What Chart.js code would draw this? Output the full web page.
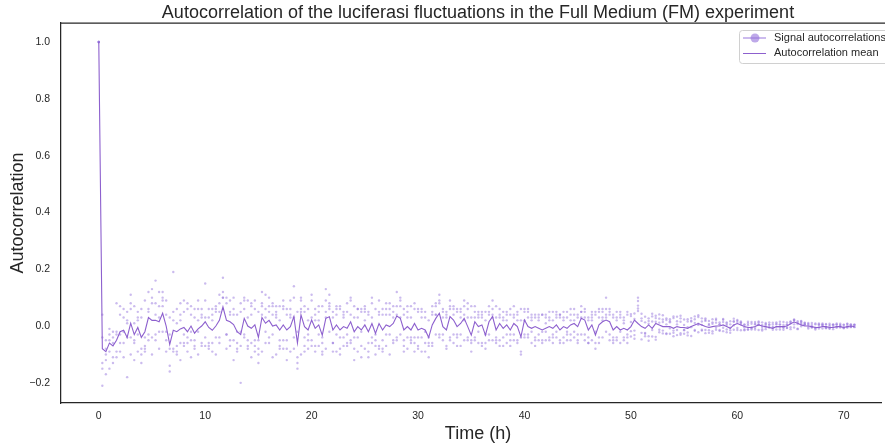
<!DOCTYPE html>
<html>
<head>
<meta charset="utf-8">
<script src="https://cdn.jsdelivr.net/npm/chart.js@4.4.1/dist/chart.umd.min.js"></script>
<style>
  html, body { margin: 0; padding: 0; background: #fff; overflow: hidden; }
  #chart { display: block; }
</style>
</head>
<body>
<canvas id="chart" width="885" height="446"></canvas>
<script>
// sampling interval of the lags (hours)
const STEP_H = 1 / 3;

const meanAutocorr = [
  1.0, -0.08, -0.09, -0.06, -0.07, -0.05, -0.02, -0.015, -0.04, 0.01,
  -0.03, -0.005, -0.04, -0.02, 0.03, 0.02, 0.02, 0.015, 0.045, 0.0,
  -0.065, -0.015, -0.02, -0.01, -0.005, -0.02, 0.0, -0.025, -0.01, 0.0,
  0.015, -0.005, -0.015, 0.0, 0.02, 0.067, 0.02, 0.015, 0.005, -0.02,
  -0.03, 0.027, 0.0, -0.008, 0.004, -0.04, 0.03, 0.01, 0.02, 0.0,
  0.004, -0.014, 0.004, -0.014, -0.002, 0.033, -0.06, 0.039, -0.002, -0.014,
  0.021, -0.008, 0.004, -0.032, 0.027, 0.033, -0.014, 0.004, -0.014, -0.002,
  -0.008, 0.015, -0.02, -0.002, -0.014, 0.004, -0.02, 0.009, -0.026, 0.009,
  -0.014, 0.004, -0.002, 0.009, 0.035, 0.027, -0.014, -0.002, -0.014, 0.009,
  -0.014, -0.008, -0.014, -0.04, 0.004, 0.027, 0.045, -0.002, -0.014, 0.033,
  0.021, -0.002, 0.009, 0.027, -0.002, -0.032, 0.015, -0.002, 0.004, -0.032,
  0.015, 0.033, -0.014, 0.009, -0.008, 0.004, -0.014, 0.009, -0.002, -0.038,
  0.021, -0.002, -0.008, -0.002, -0.008, -0.014, -0.008, -0.002, -0.008, 0.004,
  -0.014, -0.002, -0.008, 0.004, 0.009, -0.002, 0.027, 0.021, -0.014, 0.004,
  -0.032, 0.004, 0.015, 0.021, 0.015, -0.014, -0.002, -0.014, -0.008, -0.014,
  -0.002, 0.021, 0.009, -0.002, -0.008, 0.004, -0.008, 0.009, 0.004, -0.002,
  -0.002, -0.002, -0.008, -0.002, -0.005, -0.005, -0.008, -0.002, 0.004, 0.009,
  0.004, -0.002, -0.005, -0.002, 0.0, 0.0, 0.004, -0.002, -0.008, 0.004,
  0.009, 0.004, -0.002, -0.005, -0.005, -0.002, 0.004, 0.0, -0.002, -0.005,
  -0.008, -0.002, -0.002, -0.002, 0.0, 0.008, 0.014, 0.01, 0.004, 0.0,
  0.0, -0.002, -0.005, -0.005, -0.002, -0.002, -0.005, -0.005, -0.002, -0.002,
  -0.005, -0.002, 0.0, -0.002
];

const signal1 = [
  1, -.21, -.12, -.15, -.02, .08, -.09, .06, -.18, .11,
  -.06, .05, -.13, .09, .12, -.04, .16, -.08, .10, -.05,
  -.14, .19, -.10, .04, -.07, .08, -.11, .03, .09, -.06,
  .15, -.08, .06, -.10, .11, .17, -.03, .09, -.12, .04,
  -.20, .10, -.05, .08, -.09, -.13, .12, -.02, .07, -.11,
  .05, -.07, .09, -.12, .03, .14, -.15, .10, -.04, .06,
  .11, -.09, .02, -.10, .13, .07, -.06, .04, -.08, .05,
  -.03, .10, -.12, .06, -.07, .02, -.11, .08, -.05, .09,
  -.08, .04, -.10, .03, .12, .07, -.09, .05, -.06, .08,
  -.07, .05, -.06, -.11, .04, .08, .11, -.03, -.08, .09,
  .06, -.04, .03, .07, -.05, -.09, .05, -.02, .04, -.08,
  .07, .09, -.06, .03, -.04, .05, -.07, .04, .02, -.10,
  .06, -.03, .02, -.05, .03, -.06, .01, -.04, .02, .05,
  -.05, .03, -.02, .04, .06, -.03, .07, .05, -.06, .02,
  -.08, .03, .05, .10, .04, -.05, .02, -.06, .01, -.04,
  .035, -.045, .062, .018, -.027, .008, .043, -.038, .026, .014,
  -.028, .017, -.036, .006, .027, -.015, -.033, .019, .024, .032,
  .016, -.025, .007, -.018, .026, .013, -.006, .009, -.024, .017,
  .018, .006, -.015, .009, -.008, .014, .005, -.016, .007, -.004,
  -.013, .008, .015, -.006, .004, -.011, .019, .012, .016, .006,
  .007, -.005, -.012, .009, .002, -.006, .008, -.011, .005, .001,
  -.006, .007, -.004, .003
];

const signal2 = [
  1, -.15, -.08, -.03, -.11, -.09, .04, -.06, .05, -.10,
  .07, -.09, .03, -.07, -.05, .13, -.03, .07, -.02, .09,
  -.03, -.09, .06, -.12, .05, -.06, .07, -.08, -.02, .06,
  -.07, .06, -.09, .05, -.04, .10, .08, -.05, .06, -.08,
  .05, -.03, .09, -.11, .06, -.08, .04, .11, -.06, .08,
  -.10, .07, -.05, .06, -.09, .03, -.11, .09, .05, -.08,
  .03, .06, -.07, -.04, .09, -.02, .05, -.09, .06, -.07,
  .08, -.05, .03, -.09, .06, -.08, .04, -.04, -.10, .05,
  .06, -.07, .08, -.05, .04, -.03, .06, -.08, .03, -.06,
  .05, -.09, .03, .02, -.06, .07, -.04, .05, .03, -.05,
  -.03, .06, -.07, .04, .08, -.06, .03, .05, -.07, .02,
  -.05, .04, .03, -.07, .05, -.03, .06, -.05, .04, .02,
  -.04, .05, -.06, .03, -.03, .04, -.05, .03, -.06, -.02,
  .04, -.06, .03, -.05, .02, .04, -.03, .06, .03, -.05,
  .04, -.06, .03, -.02, .06, .03, -.05, .04, -.04, .05,
  -.037, .025, .088, -.024, .033, -.036, .016, .028, -.022, .038,
  .021, -.027, .034, -.032, .015, .004, -.023, .028, -.014, .008,
  -.016, .022, -.024, .013, -.005, -.017, .025, -.012, .006, -.013,
  -.007, .016, .004, -.013, .008, -.006, -.014, .013, -.004, .006,
  .005, -.012, -.004, .014, -.006, .009, -.005, .017, .008, .012,
  -.004, .011, .006, -.009, .004, .007, -.010, .005, -.006, .004,
  .005, -.004, .006, -.003
];

const signal3 = [
  1, -.04, -.17, -.05, -.13, -.02, -.06, -.11, .02, -.04,
  -.12, .03, -.08, -.04, .06, -.10, .08, .03, .12, -.09,
  -.16, .02, -.07, .08, -.03, -.09, .04, -.05, .06, .03,
  -.04, .03, -.06, .07, -.06, .12, -.08, .05, .10, -.06,
  -.02, .09, -.07, .04, -.05, -.10, .08, -.06, .10, -.03,
  .07, -.05, -.08, .04, .09, -.04, -.13, .06, -.07, -.05,
  -.05, .04, .07, -.09, .05, .11, -.06, -.03, .07, -.04,
  -.07, .09, -.04, .06, -.11, .05, -.06, .10, -.03, -.07,
  -.05, .08, .04, .07, -.04, .09, -.07, .03, -.05, .06,
  -.04, .03, -.09, -.06, .07, -.03, .09, -.05, .04, .06,
  .04, -.07, .05, .09, -.04, .03, -.05, .03, -.06, -.03,
  .05, .03, -.04, .06, -.07, .02, -.03, .07, -.05, -.09,
  .05, -.04, .03, -.07, .04, -.05, .03, .02, -.04, .03,
  -.06, .02, .05, -.03, .04, -.05, .05, .03, -.04, .05,
  -.06, .06, .02, .04, -.03, -.04, .05, -.02, .03, -.06,
  .014, -.032, .100, .043, -.036, .027, -.014, -.048, .012, -.026,
  .006, .024, -.016, .033, -.025, -.013, .016, -.035, .011, .004,
  .027, -.014, .018, -.026, .012, .006, .014, -.022, -.015, .003,
  .012, -.015, .006, .003, -.012, .008, .013, .004, -.011, -.005,
  -.005, .006, -.012, .004, .013, -.004, .006, -.011, -.001, .011,
  .004, -.002, -.006, .006, -.009, .005, -.001, -.004, .009, -.005,
  -.008, .001, .005, -.004
];

const signal4 = [
  1, -.13, -.05, -.09, -.06, -.11, -.03, .03, -.04, .06,
  .01, -.03, -.10, -.08, .05, .08, -.05, .12, .07, -.02,
  .03, -.08, .01, -.06, .09, -.04, -.05, .06, -.10, .04,
  .09, -.07, .02, .06, .08, .06, .10, -.07, .04, -.09,
  -.07, .06, .03, -.06, .09, -.05, .07, .03, .05, .07,
  .03, -.08, .06, -.08, .04, .10, -.02, .05, -.09, -.03,
  .09, -.07, -.03, -.06, .03, .08, -.09, .07, -.10, .03,
  -.06, .04, -.08, .03, .05, .07, -.09, .03, -.07, .04,
  -.09, .06, -.03, .05, .07, .03, -.05, -.04, .07, -.04,
  -.08, .06, -.02, -.07, .05, .04, .08, .06, -.07, .07,
  .07, -.03, .06, .02, .06, -.05, .07, -.06, .05, -.06,
  .04, .06, -.05, .04, .03, -.06, .04, -.03, -.06, -.04,
  .02, .06, -.02, .04, -.05, -.02, .04, -.05, .05, -.04,
  .03, -.04, -.03, .06, -.02, .03, .05, -.03, .02, .04,
  -.02, .05, -.04, .06, .05, -.06, -.04, .03, -.05, -.03,
  -.018, .044, .072, .027, .013, -.052, .034, .015, .041, -.016,
  -.026, -.008, .028, -.014, -.031, .023, -.004, .016, .034, .038,
  .004, .018, -.015, .024, -.013, .006, .022, .004, .017, .026,
  .021, .013, -.004, -.011, .014, -.012, .006, -.003, .011, .004,
  .012, -.003, .005, -.013, .006, .014, .021, .007, .018, .005,
  -.009, .004, .009, -.003, .006, -.008, .004, .006, -.003, .008,
  .004, -.005, .001, .005
];

const signal5 = [
  1, .04, -.10, -.01, -.04, -.03, .07, -.02, .01, .08,
  -.05, .02, .06, -.09, -.03, .10, .04, -.02, .09, .04,
  -.08, .05, -.09, .02, -.06, .06, -.02, -.07, .02, -.07,
  .03, -.06, .04, -.04, .05, .10, -.03, .04, -.05, -.02,
  .08, -.04, -.08, .07, -.07, .05, -.09, .06, -.04, .04,
  .04, .02, .07, -.05, .06, -.08, .05, -.10, .07, .02,
  -.07, .02, .05, .07, -.08, .06, .03, .06, -.04, .04,
  .05, -.06, .07, -.04, -.02, .06, .05, -.06, .06, -.08,
  .04, -.03, .06, -.06, -.05, .10, .04, .07, -.04, -.09,
  .06, -.04, .05, -.04, -.07, .04, -.03, .03, .05, -.04,
  -.06, .05, -.03, -.05, .03, .07, -.04, .04, .03, .05,
  -.03, -.05, .07, -.05, .02, .04, -.05, .03, .05, .06,
  -.03, .03, .04, -.04, .02, .04, -.02, .05, -.03, .04,
  .04, .05, -.05, .02, -.04, -.06, .03, -.05, -.06, .03,
  .05, -.04, .06, .03, -.05, .04, .03, .05, .02, .04,
  .042, -.016, .053, -.047, -.024, .018, -.037, .036, -.013, .023,
  .027, .013, -.024, .017, .036, -.027, .024, -.004, -.017, -.022,
  -.013, .027, .003, .008, .021, -.014, -.018, .013, -.006, .015,
  -.014, .011, -.012, .015, -.005, .006, .016, -.011, .004, .013,
  -.004, .013, .006, -.004, -.007, .016, .023, -.009, .012, .005,
  .011, -.004, -.008, .004, .009, -.004, -.008, .003, .005, -.002,
  -.004, .008, -.003, .005
];

const signals = [signal1, signal2, signal3, signal4, signal5];

const X_TICKS = [0, 10, 20, 30, 40, 50, 60, 70];
const Y_TICKS = [-0.2, 0.0, 0.2, 0.4, 0.6, 0.8, 1.0];

const TITLE = 'Autocorrelation of the luciferasi fluctuations in the Full Medium (FM) experiment';
const X_LABEL = 'Time (h)';
const Y_LABEL = 'Autocorrelation';
const LEGEND_LABELS = ['Signal autocorrelations', 'Autocorrelation mean'];

[meanAutocorr, ...signals].forEach((arr, k) => {
  if (arr.length !== meanAutocorr.length) throw new Error('length mismatch ' + k + ': ' + arr.length + ' vs ' + meanAutocorr.length);
});

const hours = meanAutocorr.map((_, i) => i * STEP_H);

const LINE_COLOR = 'rgb(141, 96, 206)';
const POINT_COLOR = 'rgba(147, 112, 219, 0.48)';
const TEXT_COLOR = '#262626';
const FONT = '"Liberation Sans", Arial, sans-serif';

const toPoints = arr => arr.map((v, i) => ({ x: hours[i], y: v }));

const datasets = signals.map((s, k) => ({
  label: k === 0 ? LEGEND_LABELS[0] : '',
  data: toPoints(s),
  showLine: false,
  pointRadius: 1.2,
  pointBorderWidth: 0,
  pointBackgroundColor: POINT_COLOR,
  pointBorderColor: POINT_COLOR,
  order: 2
}));

datasets.push({
  label: LEGEND_LABELS[1],
  data: toPoints(meanAutocorr),
  showLine: true,
  borderColor: LINE_COLOR,
  borderWidth: 1.1,
  pointRadius: 0,
  tension: 0,
  order: 1
});

const decorations = {
  id: 'decorations',
  afterDraw(chart) {
    const { ctx, chartArea } = chart;
    ctx.save();

    // top spine
    ctx.strokeStyle = TEXT_COLOR;
    ctx.lineWidth = 1.25;
    ctx.beginPath();
    ctx.moveTo(chartArea.left - 0.6, chartArea.top);
    ctx.lineTo(chart.width, chartArea.top);
    ctx.stroke();

    ctx.fillStyle = TEXT_COLOR;
    ctx.textAlign = 'center';
    ctx.textBaseline = 'middle';
    ctx.font = '18px ' + FONT;
    ctx.fillText(TITLE, 478, 13);
    ctx.fillText(X_LABEL, 478, 434);

    ctx.save();
    ctx.translate(18, 213);
    ctx.rotate(-Math.PI / 2);
    ctx.fillText(Y_LABEL, 0, 0);
    ctx.restore();

    // legend
    const lx = 739, ly = 30;
    ctx.fillStyle = 'rgba(255,255,255,0.85)';
    ctx.strokeStyle = '#d0d0d0';
    ctx.lineWidth = 1;
    ctx.beginPath();
    ctx.roundRect(lx + 0.5, ly + 0.5, 170, 33, 3);
    ctx.fill();
    ctx.stroke();

    ctx.strokeStyle = 'rgba(147, 112, 219, 0.6)';
    ctx.lineWidth = 1.6;
    ctx.beginPath();
    ctx.moveTo(743, 38);
    ctx.lineTo(766, 38);
    ctx.stroke();
    ctx.fillStyle = 'rgba(147, 112, 219, 0.6)';
    ctx.beginPath();
    ctx.arc(755, 38, 4.5, 0, Math.PI * 2);
    ctx.fill();

    ctx.strokeStyle = LINE_COLOR;
    ctx.lineWidth = 1;
    ctx.beginPath();
    ctx.moveTo(743, 53.5);
    ctx.lineTo(766, 53.5);
    ctx.stroke();

    ctx.fillStyle = TEXT_COLOR;
    ctx.textAlign = 'left';
    ctx.font = '11px ' + FONT;
    ctx.fillText(LEGEND_LABELS[0], 774, 38);
    ctx.fillText(LEGEND_LABELS[1], 774, 53);

    ctx.restore();
  }
};

const ctx = document.getElementById('chart');

const chart = new Chart(ctx, {
  type: 'scatter',
  data: { datasets: datasets },
  options: {
    responsive: false,
    animation: false,
    devicePixelRatio: 1,
    layout: { padding: { top: 23, right: 1, left: 0, bottom: 0 } },
    plugins: {
      legend: { display: false },
      title: { display: false },
      tooltip: { enabled: false }
    },
    scales: {
      x: {
        type: 'linear',
        min: -3.55,
        max: 73.5,
        afterBuildTicks: scale => { scale.ticks = X_TICKS.map(v => ({ value: v })); },
        afterFit: scale => { scale.height = 43; },
        grid: { display: false, drawTicks: false },
        border: { display: true, color: TEXT_COLOR, width: 1.25 },
        ticks: {
          padding: 7,
          color: TEXT_COLOR,
          font: { family: FONT, size: 10.5 },
          maxRotation: 0,
          callback: v => String(v)
        }
      },
      y: {
        type: 'linear',
        min: -0.271,
        max: 1.067,
        afterBuildTicks: scale => { scale.ticks = Y_TICKS.map(v => ({ value: v })); },
        afterFit: scale => { scale.width = 61; },
        grid: { display: false, drawTicks: false },
        border: { display: true, color: TEXT_COLOR, width: 1.25 },
        ticks: {
          padding: 11,
          color: TEXT_COLOR,
          font: { family: FONT, size: 10.5 },
          callback: v => (v < 0 ? '\u2212' : '') + Math.abs(v).toFixed(1)
        }
      }
    }
  },
  plugins: [decorations]
});
</script>
</body>
</html>
